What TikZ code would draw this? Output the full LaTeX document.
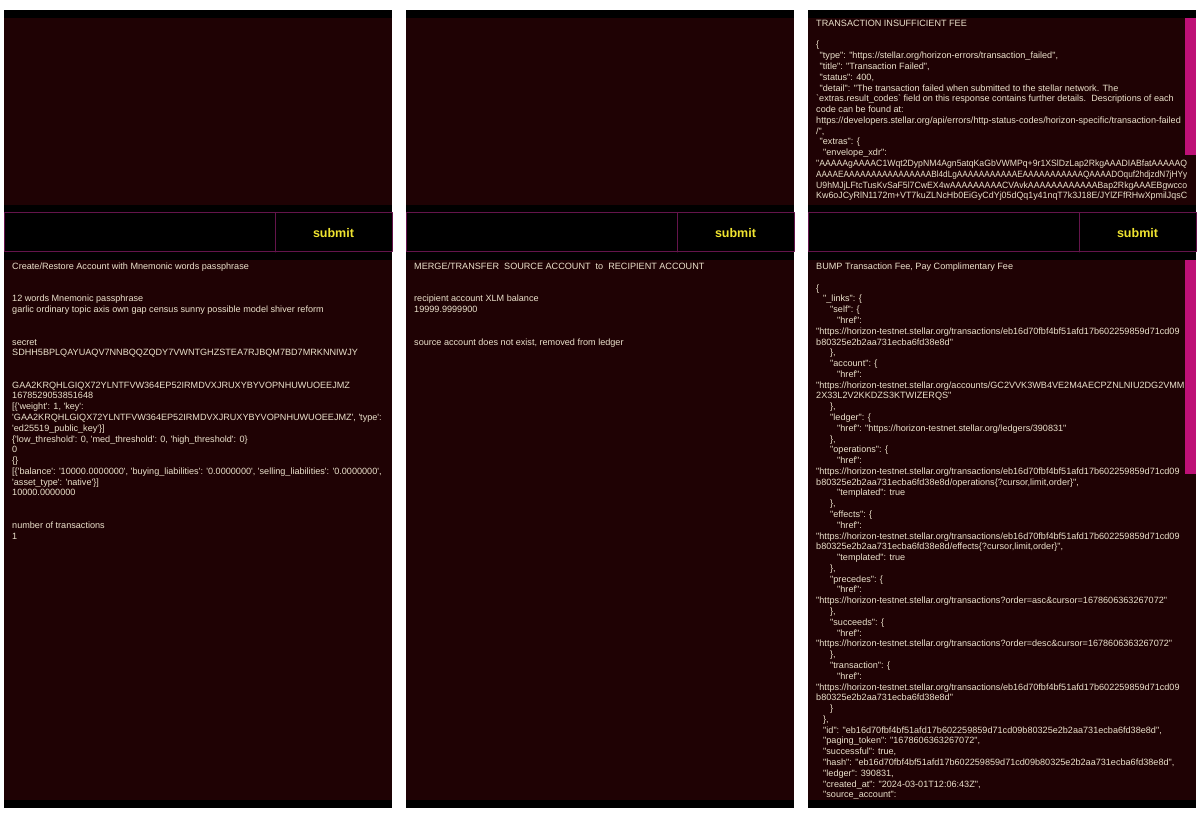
\documentclass[tikz,border=0pt]{standalone}
\usepackage{fontspec}
\usepackage{graphicx}
\newfontfamily\appfont[Ligatures=TeXOff]{Liberation Sans}
\definecolor{bgred}{RGB}{31,2,4}
\definecolor{frameline}{RGB}{100,20,75}
\definecolor{scrollbar}{RGB}{190,16,118}
\definecolor{btnyellow}{RGB}{240,228,48}
\definecolor{txtcol}{RGB}{236,226,204}
\newcommand{\indH}{\hspace*{3.5pt}}
\newcommand{\indA}{\hspace*{7pt}}
\newcommand{\indB}{\hspace*{14pt}}
\newcommand{\indC}{\hspace*{21pt}}
\newcommand{\blank}{\mbox{}}
\newcommand{\fitline}[1]{\resizebox{371pt}{\height}{#1}}
\newcommand{\txhash}{eb16d70fbf4bf51afd17b602259859d71cd09}
\newcommand{\txtail}{b80325e2b2aa731ecba6fd38e8d}
\begin{document}
\begin{tikzpicture}[x=1pt,y=-1pt,line join=round,line cap=round]
	\tikzset{every node/.style={inner sep=0pt},
		txt/.style={anchor=north west,align=left,text=txtcol,font=\appfont\fontsize{9.1}{10.78}\selectfont},
		btn/.style={text=btnyellow,font=\appfont\bfseries\fontsize{12.5}{15}\selectfont},
		frame/.style={draw=frameline,line width=1pt}}
	\fill[white] (0,0) rectangle (1200,818);
	\foreach \ox/\nm in {4/a,406/b,808/c}{
		\fill[black] (\ox,10) rectangle ++(388,798);
		\fill[bgred] (\ox,18) rectangle ++(388,187);
		\fill[bgred] (\ox,260) rectangle ++(388,540);
		\draw[frame] (\ox,213) rectangle ++(388,39);
		\draw[frame] (\ox+271,213) -- (\ox+271,252);
		\node[btn] (submit-\nm) at (\ox+329.5,233.5) {submit};
	}
	\node[txt] (account) at (12,262.8) {Create/Restore Account with Mnemonic words passphrase\\ \blank\\ \blank\\
		12 words Mnemonic passphrase\\
		garlic ordinary topic axis own gap census sunny possible model shiver reform\\ \blank\\ \blank\\
		secret\\
		SDHH5BPLQAYUAQV7NNBQQZQDY7VWNTGHZSTEA7RJBQM7BD7MRKNNIWJY\\ \blank\\ \blank\\
		GAA2KRQHLGIQX72YLNTFVW364EP52IRMDVXJRUXYBYVOPNHUWUOEEJMZ\\
		1678529053851648\\
		{[}\{'weight': 1, 'key':\\
		'GAA2KRQHLGIQX72YLNTFVW364EP52IRMDVXJRUXYBYVOPNHUWUOEEJMZ', 'type':\\
		'ed25519\_public\_key'\}]\\
		\{'low\_threshold': 0, 'med\_threshold': 0, 'high\_threshold': 0\}\\
		0\\
		\{\}\\
		{[}\{'balance': '10000.0000000', 'buying\_liabilities': '0.0000000', 'selling\_liabilities': '0.0000000',\\
		'asset\_type': 'native'\}]\\
		10000.0000000\\ \blank\\ \blank\\
		number of transactions\\
		1};
	\node[txt] (merge) at (414,262.8) {MERGE/TRANSFER\ \ SOURCE ACCOUNT\ \ to\ \ RECIPIENT ACCOUNT\\ \blank\\ \blank\\
		recipient account XLM balance\\
		19999.9999900\\ \blank\\ \blank\\
		source account does not exist, removed from ledger};
	\begin{scope}
		\clip (808,18) rectangle (1196,205);
		\node[txt] (fee-error) at (816,19.8) {TRANSACTION INSUFFICIENT FEE\\ \blank\\
			\{\\
			\indH"type": "https://stellar.org/horizon-errors/transaction\_failed",\\
			\indH"title": "Transaction Failed",\\
			\indH"status": 400,\\
			\indH"detail": "The transaction failed when submitted to the stellar network. The\\
			`extras.result\_codes` field on this response contains further details.\ \ Descriptions of each\\
			code can be found at:\\
			https://developers.stellar.org/api/errors/http-status-codes/horizon-specific/transaction-failed\\
			/",\\
			\indH"extras": \{\\
			\indA"envelope\_xdr":\\
			\fitline{"AAAAAgAAAAC1Wqt2DypNM4Agn5atqKaGbVWMPq+9r1XSlDzLap2RkgAAADIABfatAAAAAQ}\\
			\fitline{AAAAEAAAAAAAAAAAAAAAABl4dLgAAAAAAAAAAAEAAAAAAAAAAAQAAAADOquf2hdjzdN7jHYy}\\
			\fitline{U9hMJjLFtcTusKvSaF5l7CwEX4wAAAAAAAAACVAvkAAAAAAAAAAAABap2RkgAAAEBgwcco}\\
			\fitline{Kw6oJCyRlN1172m+VT7kuZLNcHb0EiGyCdYj05dQq1y41nqT7k3J18E/JYlZFfRHwXpmilJqsC}};
	\end{scope}
	\begin{scope}
		\clip (808,260) rectangle (1196,800);
		\node[txt] (bump) at (816,262.8) {BUMP Transaction Fee, Pay Complimentary Fee\\ \blank\\
			\{\\
			\indA"\_links": \{\\
			\indB"self": \{\\
			\indC"href":\\
			"https://horizon-testnet.stellar.org/transactions/\txhash\\
			\txtail"\\
			\indB\},\\
			\indB"account": \{\\
			\indC"href":\\
			"https://horizon-testnet.stellar.org/accounts/GC2VVK3WB4VE2M4AECPZNLNIU2DG2VMMH\\
			2X33L2V2KKDZS3KTWIZERQS"\\
			\indB\},\\
			\indB"ledger": \{\\
			\indC"href": "https://horizon-testnet.stellar.org/ledgers/390831"\\
			\indB\},\\
			\indB"operations": \{\\
			\indC"href":\\
			"https://horizon-testnet.stellar.org/transactions/\txhash\\
			\txtail/operations\{?cursor,limit,order\}",\\
			\indC"templated": true\\
			\indB\},\\
			\indB"effects": \{\\
			\indC"href":\\
			"https://horizon-testnet.stellar.org/transactions/\txhash\\
			\txtail/effects\{?cursor,limit,order\}",\\
			\indC"templated": true\\
			\indB\},\\
			\indB"precedes": \{\\
			\indC"href":\\
			"https://horizon-testnet.stellar.org/transactions?order=asc\&cursor=1678606363267072"\\
			\indB\},\\
			\indB"succeeds": \{\\
			\indC"href":\\
			"https://horizon-testnet.stellar.org/transactions?order=desc\&cursor=1678606363267072"\\
			\indB\},\\
			\indB"transaction": \{\\
			\indC"href":\\
			"https://horizon-testnet.stellar.org/transactions/\txhash\\
			\txtail"\\
			\indB\}\\
			\indA\},\\
			\indA"id": "\txhash\txtail",\\
			\indA"paging\_token": "1678606363267072",\\
			\indA"successful": true,\\
			\indA"hash": "\txhash\txtail",\\
			\indA"ledger": 390831,\\
			\indA"created\_at": "2024-03-01T12:06:43Z",\\
			\indA"source\_account":};
	\end{scope}
	\fill[scrollbar] (1184.5,18) rectangle (1196,155);
	\fill[scrollbar] (1184.5,260) rectangle (1196,474);
\end{tikzpicture}
\end{document}
